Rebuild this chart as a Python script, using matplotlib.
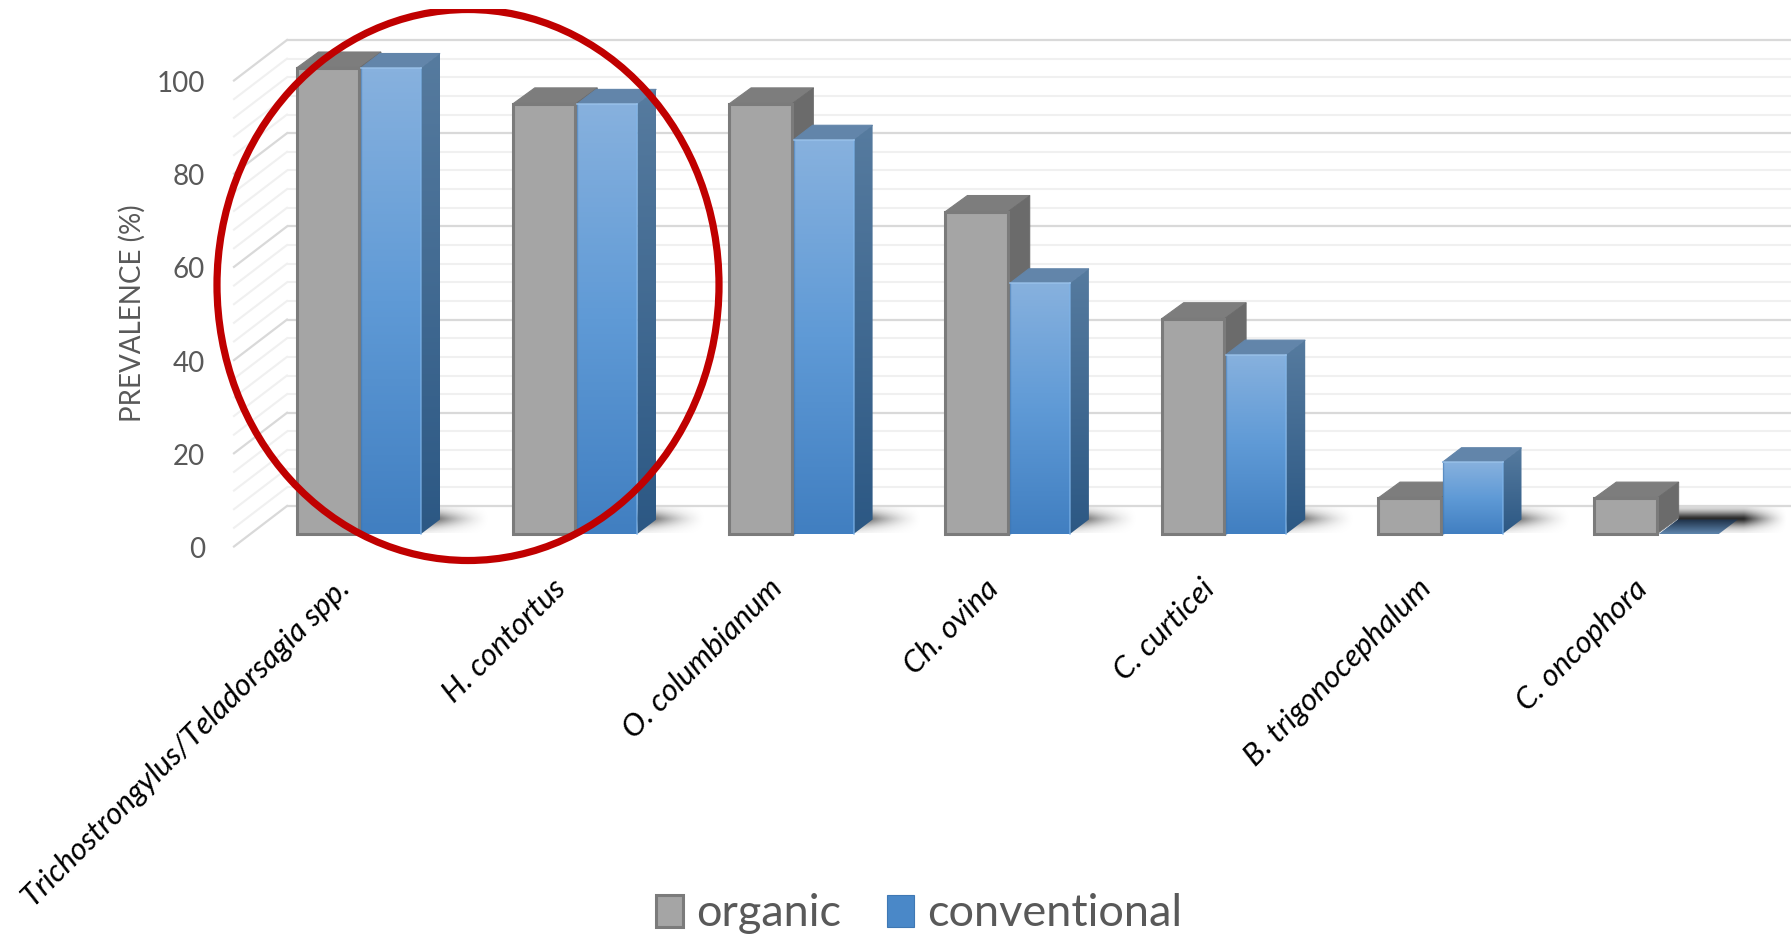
import numpy as np
import matplotlib
matplotlib.use("Agg")
import matplotlib.pyplot as plt
from matplotlib.patches import Polygon, Rectangle, Ellipse, Patch
from matplotlib.colors import LinearSegmentedColormap

categories = ["Trichostrongylus/Teladorsagia spp.", "H. contortus", "O. columbianum",
              "Ch. ovina", "C. curticei", "B. trigonocephalum", "C. oncophora"]
organic = [100, 92.3, 92.3, 69.2, 46.2, 7.7, 7.7]
conventional = [100, 92.3, 84.6, 53.8, 38.5, 15.4, 0]
y_ticks = [0, 20, 40, 60, 80, 100]
grid_levels = list(range(0, 101, 4))

plt.rcParams["font.family"] = ["Lato", "DejaVu Sans"]

W, H = 1791, 936
UX, UY = 216.3, 4.66    # pixels per category / per percentage point
X0, Y0 = 360.5, 534.0   # pixel position of the first group's front baseline


def px_w(p):
    return p / UX


def px_h(p):
    return p / UY


fig = plt.figure(figsize=(W / 100, H / 100), dpi=100, facecolor="white")
ax = fig.add_axes([0, 0, 1, 1])
ax.set_xlim(-X0 / UX, (W - X0) / UX)
ax.set_ylim((Y0 - H) / UY, Y0 / UY)
ax.axis("off")


def fill_gradient(verts, colours, z):
    """Fill a polygon with a vertical gradient; colours run bottom to top."""
    xs, ys = zip(*verts)
    cmap = LinearSegmentedColormap.from_list("g", colours)
    im = ax.imshow(np.linspace(0, 1, 128)[:, None], extent=(min(xs), max(xs), min(ys), max(ys)),
                   origin="lower", aspect="auto", cmap=cmap, zorder=z, interpolation="bilinear")
    clip = Polygon(verts, closed=True, transform=ax.transData, fc="none", ec="none")
    ax.add_patch(clip)
    im.set_clip_path(clip)


# back wall and side wall gridlines
wall_x0 = px_w(234 - X0)
wall_x1 = px_w(287 - X0)
for lvl in grid_levels:
    major = lvl % 20 == 0
    c = "#d9d9d9" if major else "#f0f0f0"
    lw = 1.6 if major else 1.5
    yb = lvl + px_h(28)
    yf = lvl - px_h(12.5)
    ax.plot([wall_x1, (W - X0) / UX], [yb, yb], color=c, lw=lw, zorder=1, solid_capstyle="butt")
    ax.plot([wall_x0, wall_x1], [yf, yb], color=c, lw=lw, zorder=1)

# soft floor shadows behind each pair of columns
t = np.linspace(0, 1, 200)
v = np.linspace(-1, 1, 80)
for i in range(len(categories)):
    last = conventional[i] == 0
    start = X0 + i * UX + (20 if last else 60)
    end = 1788 if last else X0 + i * UX + 130
    fade = np.clip((1 - t) / 0.4, 0, 1) ** 1.5 if last else (1 - t) ** 1.7
    profile = np.exp(-(np.abs(v + 0.1) / 0.6) ** 1.6)
    arr = np.ones((80, 200, 4))
    arr[..., :3] = 0.07
    arr[..., 3] = 0.9 * np.outer(profile, fade)
    ax.imshow(arr[::-1], extent=(px_w(start - X0), px_w(end - X0), px_h(Y0 - 533), px_h(Y0 - 507)),
              origin="lower", aspect="auto", zorder=2, interpolation="bilinear")

# columns drawn as front, top and side faces
gl, gr = px_w(296.5 - X0), px_w(359 - X0)
bl, br = px_w(361 - X0), px_w(421 - X0)
gdx, gdy = px_w(22), px_h(16)
bdx, bdy = px_w(19), px_h(14.5)
for i, (g, b) in enumerate(zip(organic, conventional)):
    # organic
    ax.add_patch(Polygon([(i + gl, g), (i + gr, g), (i + gr + gdx, g + gdy), (i + gl + gdx, g + gdy)],
                         fc="#7d7d7d", ec="#7d7d7d", lw=0.8, zorder=3))
    ax.add_patch(Polygon([(i + gr, 0), (i + gr + gdx, gdy), (i + gr + gdx, g + gdy), (i + gr, g)],
                         fc="#6b6b6b", ec="#6b6b6b", lw=0.5, zorder=3))
    ax.add_patch(Rectangle((i + gl, 0), gr - gl, g, fc="#a5a5a5", ec="#7b7b7b", lw=2.2,
                           zorder=4, joinstyle="miter"))
    # conventional
    if b > 0:
        top = [(i + bl, b), (i + br, b), (i + br + bdx, b + bdy), (i + bl + bdx, b + bdy)]
        ax.add_patch(Polygon(top, fc="#6285aa", ec="#6285aa", lw=0.8, zorder=5))
        side = [(i + br, 0), (i + br + bdx, bdy), (i + br + bdx, b + bdy), (i + br, b)]
        fill_gradient(side, ["#2c5884", "#567b9f"], 5)
        front = [(i + bl, 0), (i + br, 0), (i + br, b), (i + bl, b)]
        fill_gradient(front, ["#417fc1", "#5f9ad6", "#87b1de"], 6)
        ax.plot([i + bl, i + bl], [0, b], color="#3f74ad", lw=1.0, alpha=0.5, zorder=7)
        ax.plot([i + br, i + br], [0, b], color="#7fb5ea", lw=1.2, alpha=0.7, zorder=7)
        ax.plot([i + bl, i + br], [b, b], color="#9cc4ec", lw=1.2, alpha=0.8, zorder=7)
    else:
        flat = [(i + bl, 0), (i + br, 0), (i + br + bdx, bdy), (i + bl + bdx, bdy)]
        fill_gradient(flat, ["#5f86ae", "#1d2f46"], 3.5)

# value axis labels
for t_val in y_ticks:
    ax.text(px_w(205 - X0), t_val - px_h(16), str(t_val), ha="right", va="center",
            fontsize=20, color="#595959", zorder=8)
ax.text(px_w(132 - X0), px_h(Y0 - 313), "PREVALENCE (%)", rotation=90, ha="center", va="center",
        fontsize=20, color="#595959", zorder=8)

# rotated category labels
for i, name in enumerate(categories):
    ax.text(i + px_w(345 - X0), px_h(Y0 - 584), name, rotation=45, rotation_mode="anchor",
            ha="right", va="center", fontsize=22.3, style="italic", color="black", zorder=8)

# ring around the first two groups
clip = Rectangle((-X0 / UX, -100), W / UX, 100 + px_h(Y0 - 9), transform=ax.transData,
                 fc="none", ec="none")
ax.add_patch(clip)
ring = Ellipse((px_w(468 - X0), px_h(Y0 - 285)), px_w(502), px_h(551), fc="none", ec="#c00000",
               lw=5.2, zorder=9)
ax.add_patch(ring)
ring.set_clip_path(clip)

# legend
handles = [Patch(fc="#a5a5a5", ec="#7b7b7b", lw=2.2, label="organic"),
           Patch(fc="#4a88c8", ec="#3f78b4", lw=0.8, label="conventional")]
leg = ax.legend(handles=handles, loc="center", bbox_to_anchor=(919 / W, 1 - 914 / H), ncol=2,
                frameon=False, fontsize=32.5, labelcolor="#595959", handlelength=0.6,
                handleheight=0.72, handletextpad=0.3, columnspacing=1.0, borderpad=0,
                borderaxespad=0)

fig.savefig("out.png", dpi=100, facecolor="white")
